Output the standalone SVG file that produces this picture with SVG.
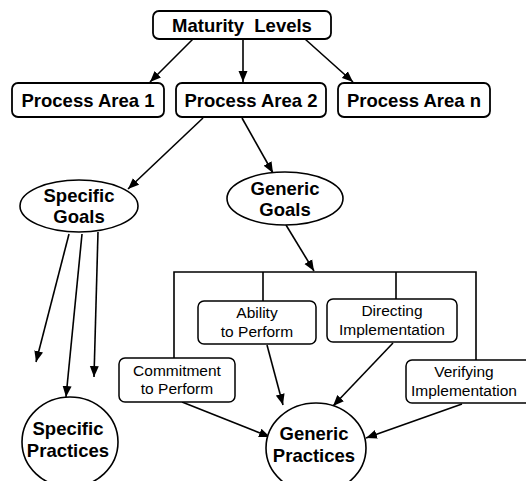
<svg xmlns="http://www.w3.org/2000/svg" width="526" height="481" viewBox="0 0 526 481">
  <style>
    .box { fill: #ffffff; stroke: #000000; stroke-width: 1.8; }
    .sub { fill: #ffffff; stroke: #000000; stroke-width: 1.5; }
    .oval { fill: #ffffff; stroke: #000000; stroke-width: 1.6; }
    .bold { font-family: "Liberation Sans", Arial, sans-serif; font-weight: bold; font-size: 18.5px; fill: #000000; text-anchor: middle; }
    .reg { font-family: "Liberation Sans", Arial, sans-serif; font-size: 15.5px; fill: #000000; text-anchor: middle; }
    .edge { fill: none; stroke: #000000; stroke-width: 1.6; }
    .arrow { fill: none; stroke: #000000; stroke-width: 1.6; marker-end: url(#head); }
  </style>
  <defs>
    <marker id="head" markerUnits="userSpaceOnUse" markerWidth="12" markerHeight="10" refX="11" refY="5" orient="auto">
      <path d="M0,0.5 L11,5 L0,9.5 z" fill="#000000"/>
    </marker>
  </defs>

  <rect width="526" height="481" fill="#ffffff"/>

  <!-- connectors -->
  <g id="connectors">
    <line class="arrow" x1="193" y1="39" x2="150" y2="82"/>
    <line class="arrow" x1="243" y1="39" x2="243" y2="82"/>
    <line class="arrow" x1="305" y1="39" x2="353" y2="82"/>
    <line class="arrow" x1="203" y1="118" x2="128" y2="189"/>
    <line class="arrow" x1="242" y1="118" x2="273" y2="173"/>
    <line class="arrow" x1="286" y1="225" x2="314" y2="271"/>
    <!-- bracket feeding the four practice groups -->
    <path class="edge" d="M174,359 V272 H476 V360 M263,272 V301 M396,272 V299"/>
    <!-- specific goals to specific practices -->
    <line class="arrow" x1="69" y1="234" x2="36" y2="362"/>
    <line class="arrow" x1="82" y1="234" x2="66" y2="397"/>
    <line class="arrow" x1="98" y1="232" x2="94" y2="377"/>
    <!-- practice groups to generic practices -->
    <line class="arrow" x1="182" y1="402" x2="270" y2="437"/>
    <line class="arrow" x1="267" y1="345" x2="283" y2="405"/>
    <line class="arrow" x1="393" y1="343" x2="333" y2="406"/>
    <line class="arrow" x1="462" y1="404" x2="366" y2="438"/>
  </g>

  <g id="maturity-levels">
    <rect class="box" x="153" y="11" width="178" height="28" rx="6"/>
    <text class="bold" x="242" y="32" xml:space="preserve">Maturity  Levels</text>
  </g>

  <g id="process-area-1">
    <rect class="box" x="12" y="83" width="152" height="34" rx="6"/>
    <text class="bold" x="88" y="107">Process Area 1</text>
  </g>
  <g id="process-area-2">
    <rect class="box" x="176" y="83" width="150" height="34" rx="6"/>
    <text class="bold" x="251" y="107">Process Area 2</text>
  </g>
  <g id="process-area-n">
    <rect class="box" x="338" y="83" width="152" height="34" rx="6"/>
    <text class="bold" x="414" y="107">Process Area n</text>
  </g>

  <g id="specific-goals">
    <ellipse class="oval" cx="79" cy="206" rx="59" ry="26"/>
    <text class="bold" x="79" y="202">Specific</text>
    <text class="bold" x="79" y="223">Goals</text>
  </g>
  <g id="generic-goals">
    <ellipse class="oval" cx="285" cy="198.5" rx="58" ry="26.5"/>
    <text class="bold" x="285" y="195">Generic</text>
    <text class="bold" x="285" y="216">Goals</text>
  </g>

  <g id="ability-to-perform">
    <rect class="sub" x="198" y="301" width="118" height="43" rx="6"/>
    <text class="reg" x="257" y="318">Ability</text>
    <text class="reg" x="257" y="337">to Perform</text>
  </g>
  <g id="directing-implementation">
    <rect class="sub" x="327" y="299" width="130" height="43" rx="6"/>
    <text class="reg" x="392" y="316">Directing</text>
    <text class="reg" x="392" y="335">Implementation</text>
  </g>
  <g id="commitment-to-perform">
    <rect class="sub" x="119" y="358" width="116" height="44" rx="6"/>
    <text class="reg" x="177" y="376">Commitment</text>
    <text class="reg" x="177" y="394">to Perform</text>
  </g>
  <g id="verifying-implementation">
    <rect class="sub" x="406" y="360" width="130" height="43" rx="6"/>
    <text class="reg" x="464" y="377">Verifying</text>
    <text class="reg" x="464" y="396">Implementation</text>
  </g>

  <g id="specific-practices">
    <ellipse class="oval" cx="70" cy="442" rx="48" ry="45"/>
    <text class="bold" x="68" y="435">Specific</text>
    <text class="bold" x="68" y="457">Practices</text>
  </g>
  <g id="generic-practices">
    <ellipse class="oval" cx="316" cy="448" rx="50" ry="45"/>
    <text class="bold" x="314" y="440">Generic</text>
    <text class="bold" x="314" y="462">Practices</text>
  </g>
</svg>
